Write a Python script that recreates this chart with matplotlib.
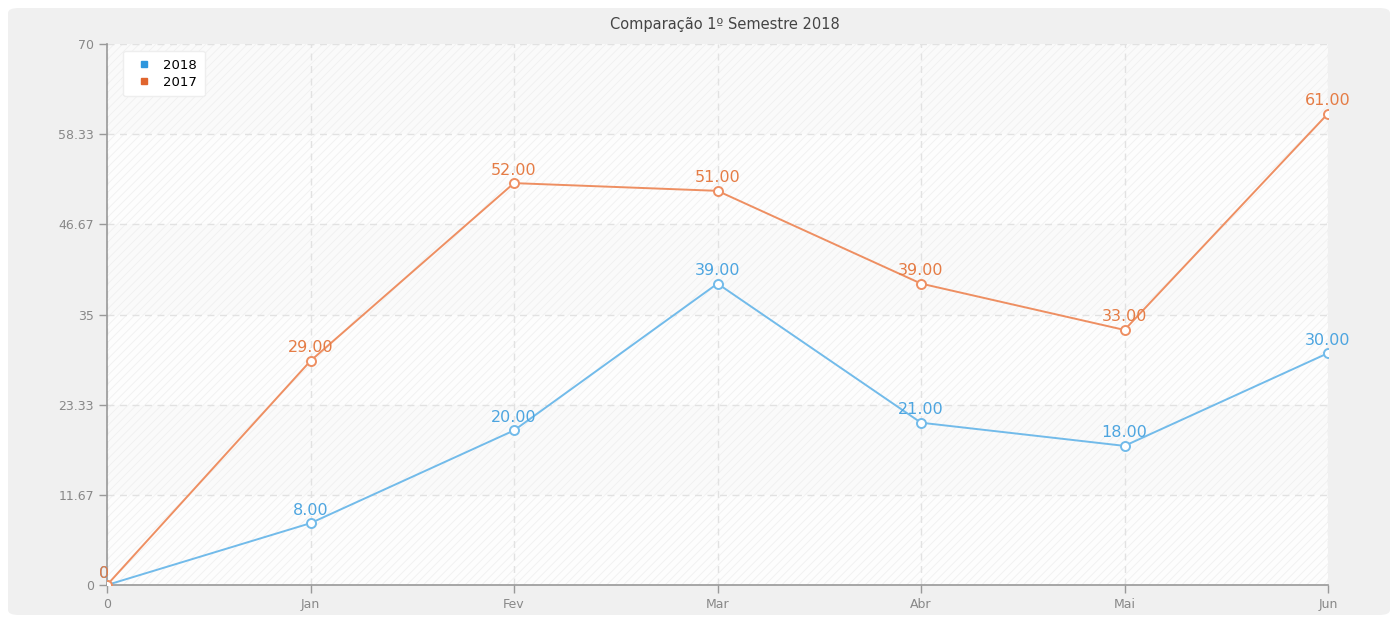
import matplotlib.pyplot as plt
from matplotlib.patches import FancyBboxPatch
from matplotlib.lines import Line2D

months = ['0', 'Jan', 'Fev', 'Mar', 'Abr', 'Mai', 'Jun']
vals_2018 = [0, 8, 20, 39, 21, 18, 30]
vals_2017 = [0, 29, 52, 51, 39, 33, 61]
yticks = [0, 11.67, 23.33, 35, 46.67, 58.33, 70]
ytick_labels = ['0', '11.67', '23.33', '35', '46.67', '58.33', '70']

blue_line = '#72bbea'
blue_text = '#4da5e0'
orange_line = '#ee8f62'
orange_text = '#e57c45'

fig = plt.figure(figsize=(13.99, 6.19), dpi=100)
fig.patch.set_facecolor('white')

# grey rounded panel behind everything
panel = FancyBboxPatch((8 / 1399, 4 / 619), 1382 / 1399, 607 / 619,
                       boxstyle='round,pad=0,rounding_size=0.008',
                       transform=fig.transFigure, facecolor='#f0f0f0',
                       edgecolor='none', zorder=-10)
fig.patches.append(panel)

ax = fig.add_axes([107 / 1399, 1 - 585 / 619, 1221 / 1399, 541 / 619])
ax.set_facecolor('#fcfcfc')

# alternating hatched bands
plt.rcParams['hatch.color'] = '#efefef'
plt.rcParams['hatch.linewidth'] = 0.6
for i in range(len(yticks) - 1):
    ax.axhspan(yticks[i], yticks[i + 1], facecolor='#fdfdfd' if i % 2 == 0 else '#fafafa',
               hatch='////', edgecolor='#f0f0f0', linewidth=0, zorder=0)

x = list(range(len(months)))
ax.plot(x, vals_2018, color=blue_line, lw=1.4, marker='o', ms=6.5,
        mfc='white', mec=blue_line, mew=1.4, zorder=3)
ax.plot(x, vals_2017, color=orange_line, lw=1.4, marker='o', ms=6.5,
        mfc='white', mec=orange_line, mew=1.4, zorder=4)

for xi, v in zip(x, vals_2018):
    ax.annotate('0' if v == 0 else f'{v:.2f}', (xi, v), xytext=(0, 4) if v else (-2, 3),
                textcoords='offset points', ha='center', va='bottom',
                color=blue_text, fontsize=11.5, zorder=5)
for xi, v in zip(x, vals_2017):
    ax.annotate('0' if v == 0 else f'{v:.2f}', (xi, v), xytext=(0, 4) if v else (-2, 3),
                textcoords='offset points', ha='center', va='bottom',
                color=orange_text, fontsize=11.5, zorder=6)

ax.set_xlim(0, 6)
ax.set_ylim(0, 70)
ax.set_xticks(x)
ax.set_xticklabels(months)
ax.set_yticks(yticks)
ax.set_yticklabels(ytick_labels)
ax.tick_params(colors='#999999', labelcolor='#888888', labelsize=9, length=6, width=1)
ax.grid(True, color='#e2e2e2', linestyle=(0, (5, 4)), linewidth=1, zorder=1)
ax.set_axisbelow(True)
for s in ['top', 'right']:
    ax.spines[s].set_visible(False)
for s in ['left', 'bottom']:
    ax.spines[s].set_color('#999999')
    ax.spines[s].set_linewidth(1.2)

handles = [Line2D([], [], marker='s', ls='none', color='#2e96dd', ms=5, label='2018'),
           Line2D([], [], marker='s', ls='none', color='#e0652e', ms=5, label='2017')]
leg = ax.legend(handles=handles, loc='upper left', bbox_to_anchor=(0.01, 0.995),
                fontsize=9.5, frameon=True, fancybox=True, framealpha=1,
                edgecolor='#eeeeee', handletextpad=0.4, borderpad=0.6, labelspacing=0.3,
                borderaxespad=0.3)
leg.get_frame().set_facecolor('white')

fig.text(0.518, 1 - 24 / 619, 'Comparação 1º Semestre 2018', ha='center', va='center',
         fontsize=10.5, color='#444444')

fig.savefig('out.png', dpi=100)
